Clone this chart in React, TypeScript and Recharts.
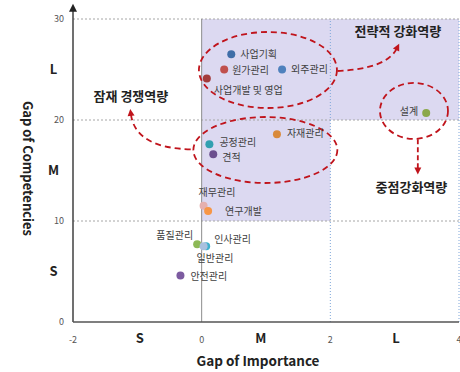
import React from 'react';
import {
  ScatterChart,
  Scatter,
  XAxis,
  YAxis,
  ReferenceArea,
  ReferenceLine,
  ReferenceDot,
} from 'recharts';

// ---- data ----
const categories = [
  '사업기획', '원가관리', '외주관리', '사업개발 및 영업', '설계', '공정관리', '견적',
  '자재관리', '재무관리', '연구개발', '품질관리', '인사관리', '일반관리', '안전관리',
];
const importanceGap = [0.46, 0.35, 1.25, 0.08, 3.49, 0.12, 0.18, 1.17, 0.03, 0.1, -0.07, 0.07, 0.03, -0.33];
const competencyGap = [26.5, 25.0, 25.0, 24.1, 20.7, 17.6, 16.6, 18.6, 11.5, 11.0, 7.7, 7.5, 7.5, 4.6];

const xTicks = [-2, 0, 2, 4];
const yTicks = [0, 10, 20, 30];
const xBandTicks = [-0.96, 0.92, 3.02];
const xBandLabels = ['S', 'M', 'L'];
const yBandTicks = [5, 15, 25];
const yBandLabels = ['S', 'M', 'L'];

const groupTitles = ['전략적 강화역량', '잠재 경쟁역량', '중점강화역량'];
const groupTitleX = [3.05, -1.1, 3.26];
const groupTitleY = [28.8, 22.3, 13.3];
const groupCenterX = [1.03, 0.99, 3.3];
const groupCenterY = [24.95, 17.03, 20.9];

// ---- styles ----
const FONT = '"Noto Sans CJK KR", "Noto Sans", sans-serif';
const RED = '#C0141C';
const pointColors = [
  '#3F6EA8', '#C0504D', '#4F81BD', '#A33B3B', '#8BA84A', '#31A0B0', '#6B4F8E',
  '#D98A3B', '#E5B0AE', '#F79646', '#8DB956', '#3FB0CC', '#A9C0DE', '#7C5BA0',
];
const labelPlace: [number, number, 'start' | 'end'][] = [
  [9, 0, 'start'], [8, 1, 'start'], [9, 0, 'start'], [7, 12, 'start'], [-8, -1, 'end'],
  [10, -2, 'start'], [9, 3, 'start'], [10, -1, 'start'], [-5, -13, 'start'], [17, 1, 'start'],
  [-4, -9, 'end'], [8, -7, 'start'], [-7, 12, 'start'], [10, 1, 'start'],
];
const ellipseSize = [
  [69, 38],
  [72, 33],
  [34, 28],
];

const points = categories.map((name, i) => ({ name, x: importanceGap[i], y: competencyGap[i], i }));

const PointShape = (props: any) => {
  const { cx, cy, payload } = props;
  const i = payload.i;
  const [dx, dy, anchor] = labelPlace[i];
  return (
    <g>
      <circle cx={cx} cy={cy} r={4} fill={pointColors[i]} />
      <text
        x={cx + dx}
        y={cy + dy + 3.5}
        textAnchor={anchor}
        fontSize={10}
        fill="#404040"
        fontFamily={FONT}
      >
        {payload.name}
      </text>
    </g>
  );
};

const XTick = (props: any) => {
  const { x, y, payload } = props;
  const bi = xBandTicks.indexOf(payload.value);
  if (bi >= 0) {
    return (
      <text x={x} y={y + 21} textAnchor="middle" fontSize={13} fontWeight="bold" fill="#222" fontFamily={FONT}>
        {xBandLabels[bi]}
      </text>
    );
  }
  return (
    <text x={x} y={y + 21} textAnchor="middle" fontSize={9} fill="#555" fontFamily={FONT}>
      {payload.value}
    </text>
  );
};

const YTick = (props: any) => {
  const { x, y, payload } = props;
  const bi = yBandTicks.indexOf(payload.value);
  if (bi >= 0) {
    return (
      <text x={x - 19.5} y={y + 4.5} textAnchor="middle" fontSize={13} fontWeight="bold" fill="#222" fontFamily={FONT}>
        {yBandLabels[bi]}
      </text>
    );
  }
  return (
    <text x={x - 9} y={y + 3} textAnchor="end" fontSize={9} fill="#555" fontFamily={FONT}>
      {payload.value}
    </text>
  );
};

const XTitle = (props: any) => {
  const vb = props.viewBox;
  return (
    <text x={vb.x + vb.width / 2 - 8} y={vb.y + 44} textAnchor="middle" fontSize={13.5} fontWeight="bold" fill="#222" fontFamily={FONT}>
      Gap of Importance
    </text>
  );
};

const YTitle = (props: any) => {
  const vb = props.viewBox;
  const x = 28;
  const y = vb.y + vb.height / 2 - 2;
  return (
    <text
      x={x}
      y={y}
      transform={`rotate(90, ${x}, ${y})`}
      textAnchor="middle"
      dominantBaseline="central"
      fontSize={13}
      fontWeight="bold"
      fill="#222"
      fontFamily={FONT}
    >
      Gap of Competencies
    </text>
  );
};

const AxisArrow = (props: any) => {
  const { x1, y1, x2, y2 } = props;
  const top = Math.min(y1, y2);
  const bottom = Math.max(y1, y2);
  return (
    <g>
      <line x1={x1} y1={bottom} x2={x1} y2={top + 6} stroke="#404040" strokeWidth={1.5} />
      <polygon points={`${x1},${top} ${x1 - 4},${top + 8} ${x1 + 4},${top + 8}`} fill="#222" />
    </g>
  );
};

const Arrowhead = ({ x, y, angle }: { x: number; y: number; angle: number }) => {
  const s = 7;
  const w = 3.5;
  const ca = Math.cos(angle);
  const sa = Math.sin(angle);
  const bx = x - ca * s;
  const by = y - sa * s;
  return (
    <polygon
      points={`${x},${y} ${bx - sa * w},${by + ca * w} ${bx + sa * w},${by - ca * w}`}
      fill={RED}
    />
  );
};

const makeCurve = (cdx: number, cdy: number) => (props: any) => {
  const { x1, y1, x2, y2 } = props;
  const cx = x1 + (x2 - x1) * cdx;
  const cy = y1 + (y2 - y1) * cdy;
  const angle = Math.atan2(y2 - cy, x2 - cx);
  const ex = x2 - Math.cos(angle) * 5;
  const ey = y2 - Math.sin(angle) * 5;
  return (
    <g>
      <path d={`M${x1},${y1} Q${cx},${cy} ${ex},${ey}`} fill="none" stroke={RED} strokeWidth={1.8} strokeDasharray="6 4" />
      <Arrowhead x={x2} y={y2} angle={angle} />
    </g>
  );
};

const StraightArrow = (props: any) => {
  const { x1, y1, x2, y2 } = props;
  const angle = Math.atan2(y2 - y1, x2 - x1);
  return (
    <g>
      <line x1={x1} y1={y1} x2={x2 - Math.cos(angle) * 5} y2={y2 - Math.sin(angle) * 5} stroke={RED} strokeWidth={1.8} strokeDasharray="5 3" />
      <Arrowhead x={x2} y={y2} angle={angle} />
    </g>
  );
};

const makeEllipse = (rx: number, ry: number) => (props: any) => (
  <ellipse cx={props.cx} cy={props.cy} rx={rx} ry={ry} fill="none" stroke={RED} strokeWidth={1.8} strokeDasharray="6 4" />
);

const makeTitle = (text: string) => (props: any) => (
  <text x={props.cx} y={props.cy + 4.5} textAnchor="middle" fontSize={13} fontWeight="bold" fill="#222" fontFamily={FONT}>
    {text}
  </text>
);

export default function App() {
  return (
    <div style={{ position: 'absolute', left: 0, top: 0, width: 460, height: 372, background: '#fff' }}>
      <ScatterChart width={460} height={372} margin={{ top: 19, right: 1, bottom: 0, left: 0 }}>
        <XAxis
          type="number"
          dataKey="x"
          domain={[-2, 4]}
          ticks={[...xTicks, ...xBandTicks].sort((a, b) => a - b)}
          interval={0}
          height={50}
          tickSize={0}
          tickMargin={0}
          tick={<XTick />}
          axisLine={{ stroke: '#555', strokeWidth: 1.5 }}
          tickLine={false}
          label={<XTitle />}
        />
        <YAxis
          type="number"
          dataKey="y"
          domain={[0, 30]}
          ticks={[...yTicks, ...yBandTicks].sort((a, b) => a - b)}
          interval={0}
          width={73}
          tickSize={0}
          tickMargin={0}
          tick={<YTick />}
          axisLine={false}
          tickLine={false}
          label={<YTitle />}
        />
        <ReferenceArea x1={0} x2={4} y1={20} y2={30} fill="#DCD9F1" fillOpacity={1} stroke="none" ifOverflow="visible" />
        <ReferenceArea x1={0} x2={2} y1={10} y2={20} fill="#DCD9F1" fillOpacity={1} stroke="none" ifOverflow="visible" />
        {[10, 20, 30].map((v) => (
          <ReferenceLine key={'h' + v} y={v} stroke="#A6A6A6" strokeDasharray="2 2" ifOverflow="visible" />
        ))}
        <ReferenceLine x={0} stroke="#8C8C8C" strokeWidth={1} ifOverflow="visible" />
        <ReferenceLine x={2} stroke="#7FA6D9" strokeDasharray="1 2" ifOverflow="visible" />
        <ReferenceLine x={4} stroke="#7FA6D9" strokeDasharray="1 2" ifOverflow="visible" />
        <ReferenceLine
          segment={[{ x: -2, y: 0 }, { x: -2, y: 31.5 }]}
          ifOverflow="visible"
          shape={AxisArrow}
        />
        {groupCenterX.map((gx, i) => (
          <ReferenceDot
            key={'e' + i}
            x={gx}
            y={groupCenterY[i]}
            r={1}
            ifOverflow="visible"
            shape={makeEllipse(ellipseSize[i][0], ellipseSize[i][1])}
          />
        ))}
        <ReferenceLine
          segment={[{ x: 2.11, y: 24.85 }, { x: 3.07, y: 27.55 }]}
          ifOverflow="visible"
          shape={makeCurve(0.8, 0.08)}
        />
        <ReferenceLine
          segment={[{ x: -0.17, y: 17.1 }, { x: -1.11, y: 21.1 }]}
          ifOverflow="visible"
          shape={makeCurve(0.92, 0.03)}
        />
        <ReferenceLine
          segment={[{ x: 3.36, y: 18.1 }, { x: 3.36, y: 14.6 }]}
          ifOverflow="visible"
          shape={StraightArrow}
        />
        {groupTitles.map((t, i) => (
          <ReferenceDot
            key={'t' + i}
            x={groupTitleX[i]}
            y={groupTitleY[i]}
            r={1}
            ifOverflow="visible"
            shape={makeTitle(t)}
          />
        ))}
        <Scatter data={points} isAnimationActive={false} shape={<PointShape />} />
      </ScatterChart>
    </div>
  );
}
